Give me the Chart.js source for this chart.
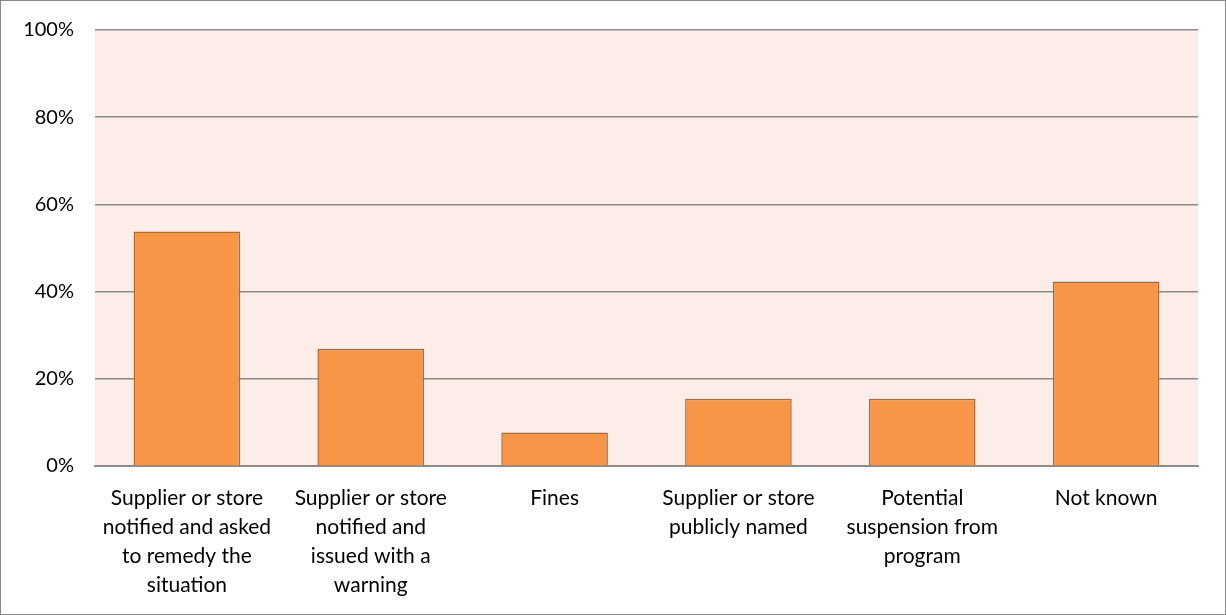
<!DOCTYPE html>
<html>
<head>
<meta charset="utf-8">
<script src="https://cdn.jsdelivr.net/npm/chart.js@4"></script>
<style>
body{margin:0;background:#fff}
#wrap{width:1226px;height:615px;position:relative}
</style>
</head>
<body>
<div id="wrap"><canvas id="grafico" width="1226" height="615"></canvas></div>
<script>

let categorias=[
["Supplier or store","notified and asked","to remedy the","situation"],
["Supplier or store","notified and","issued with a","warning"],
"Fines",
["Supplier or store","publicly named"],
["Potential","suspension from","program"],
"Not known"
]
let valores=[53.8,26.9,7.7,15.4,15.4,42.3]
let ticksY=[0,20,40,60,80,100]

// fundo rosa da area do grafico + moldura
let fundo={
id:'fundo',
beforeDraw(chart){
let c=chart.ctx,a=chart.chartArea
c.save()
c.fillStyle='#fff'
c.fillRect(0,0,chart.width,chart.height)
c.fillStyle='#FCEDE8'
c.fillRect(a.left,a.top,a.right-a.left,a.bottom-a.top)
c.strokeStyle='#888'
c.lineWidth=1
c.strokeRect(0.5,0.5,chart.width-1,chart.height-1)
c.restore()
}
}

new Chart(document.getElementById("grafico"),{
type:'bar',
data:{
labels:categorias,
datasets:[{
data:valores,
backgroundColor:'#F79646',
borderColor:'#B4682B',
borderWidth:1.5,
barPercentage:0.58,
categoryPercentage:1
}]
},
options:{
responsive:false,
animation:false,
layout:{padding:{left:0,top:30,right:28,bottom:0}},
plugins:{legend:{display:false},tooltip:{enabled:false}},
scales:{
x:{
grid:{display:false,drawTicks:false},
border:{color:'#8C8C8C',width:2},
ticks:{color:'#000',font:{family:'Lato',size:21,lineHeight:1.38},padding:18,maxRotation:0,autoSkip:false},
afterFit(s){s.height=149;s.paddingLeft=0;s.paddingRight=0}
},
y:{
min:0,max:100,
afterBuildTicks(s){s.ticks=ticksY.map(v=>({value:v}))},
grid:{color:'#8C8C8C',lineWidth:1.5,drawTicks:false},
border:{display:false},
ticks:{color:'#000',font:{family:'Lato',size:20},padding:21,callback:v=>v+'%'},
afterFit(s){s.width=95;s.paddingTop=0;s.paddingBottom=0}
}
}
},
plugins:[fundo]
})

</script>
</body>
</html>
